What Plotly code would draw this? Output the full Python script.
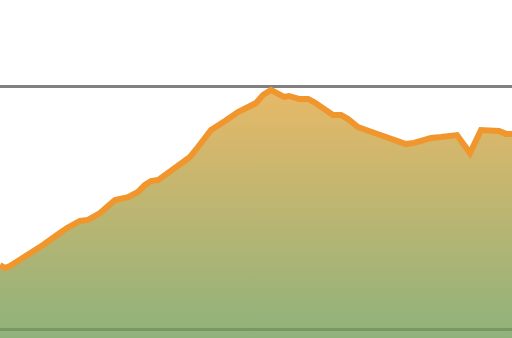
import plotly.graph_objects as go

# Data (arbitrary units; gridlines at 200 and 300)
days = [0, 5, 10, 20, 33, 43, 57, 67, 80, 88, 100, 115, 128, 138, 145, 151, 158, 165,
        178, 190, 198, 211, 225, 238, 256, 263, 271, 276, 284, 289, 299, 308, 314,
        333, 341, 348, 358, 369, 384, 406, 414, 431, 441, 457, 470, 481, 499, 506, 512]
values = [226.7, 225.5, 226.3, 228.8, 232.5, 235.0, 239.1, 242.0, 244.9, 245.3, 248.1,
          253.5, 254.7, 256.8, 259.7, 261.3, 261.7, 263.8, 268.3, 271.2, 275.3, 282.3,
          286.0, 289.7, 293.4, 296.7, 298.8, 297.9, 295.9, 296.3, 295.1, 295.1, 293.8,
          288.5, 288.5, 286.8, 283.5, 281.9, 279.8, 276.5, 277.0, 279.0, 279.4, 280.2,
          272.8, 282.3, 281.9, 280.7, 280.7]

y_min, y_max = 196.7, 335.8

fig = go.Figure()
fig.add_trace(go.Scatter(
    x=days, y=values,
    mode="lines",
    line=dict(color="#F0962C", width=6),
    fill="tozeroy",
    fillgradient=dict(
        type="vertical",
        start=y_min, stop=298.0,
        colorscale=[[0, "rgba(115,159,91,0.8)"], [1, "rgba(224,167,66,0.8)"]],
    ),
    hoverinfo="skip",
))

fig.update_layout(
    width=512, height=338,
    margin=dict(l=0, r=0, t=0, b=0),
    paper_bgcolor="white", plot_bgcolor="white",
    showlegend=False,
    xaxis=dict(range=[0, 512], visible=False, showgrid=False, zeroline=False),
    yaxis=dict(range=[y_min, y_max], tick0=0, dtick=100, showticklabels=False,
               showgrid=True, gridcolor="#808080", gridwidth=2.5, zeroline=False,
               showline=False, ticks=""),
)

fig.write_html("out.html", config={"displayModeBar": False})
